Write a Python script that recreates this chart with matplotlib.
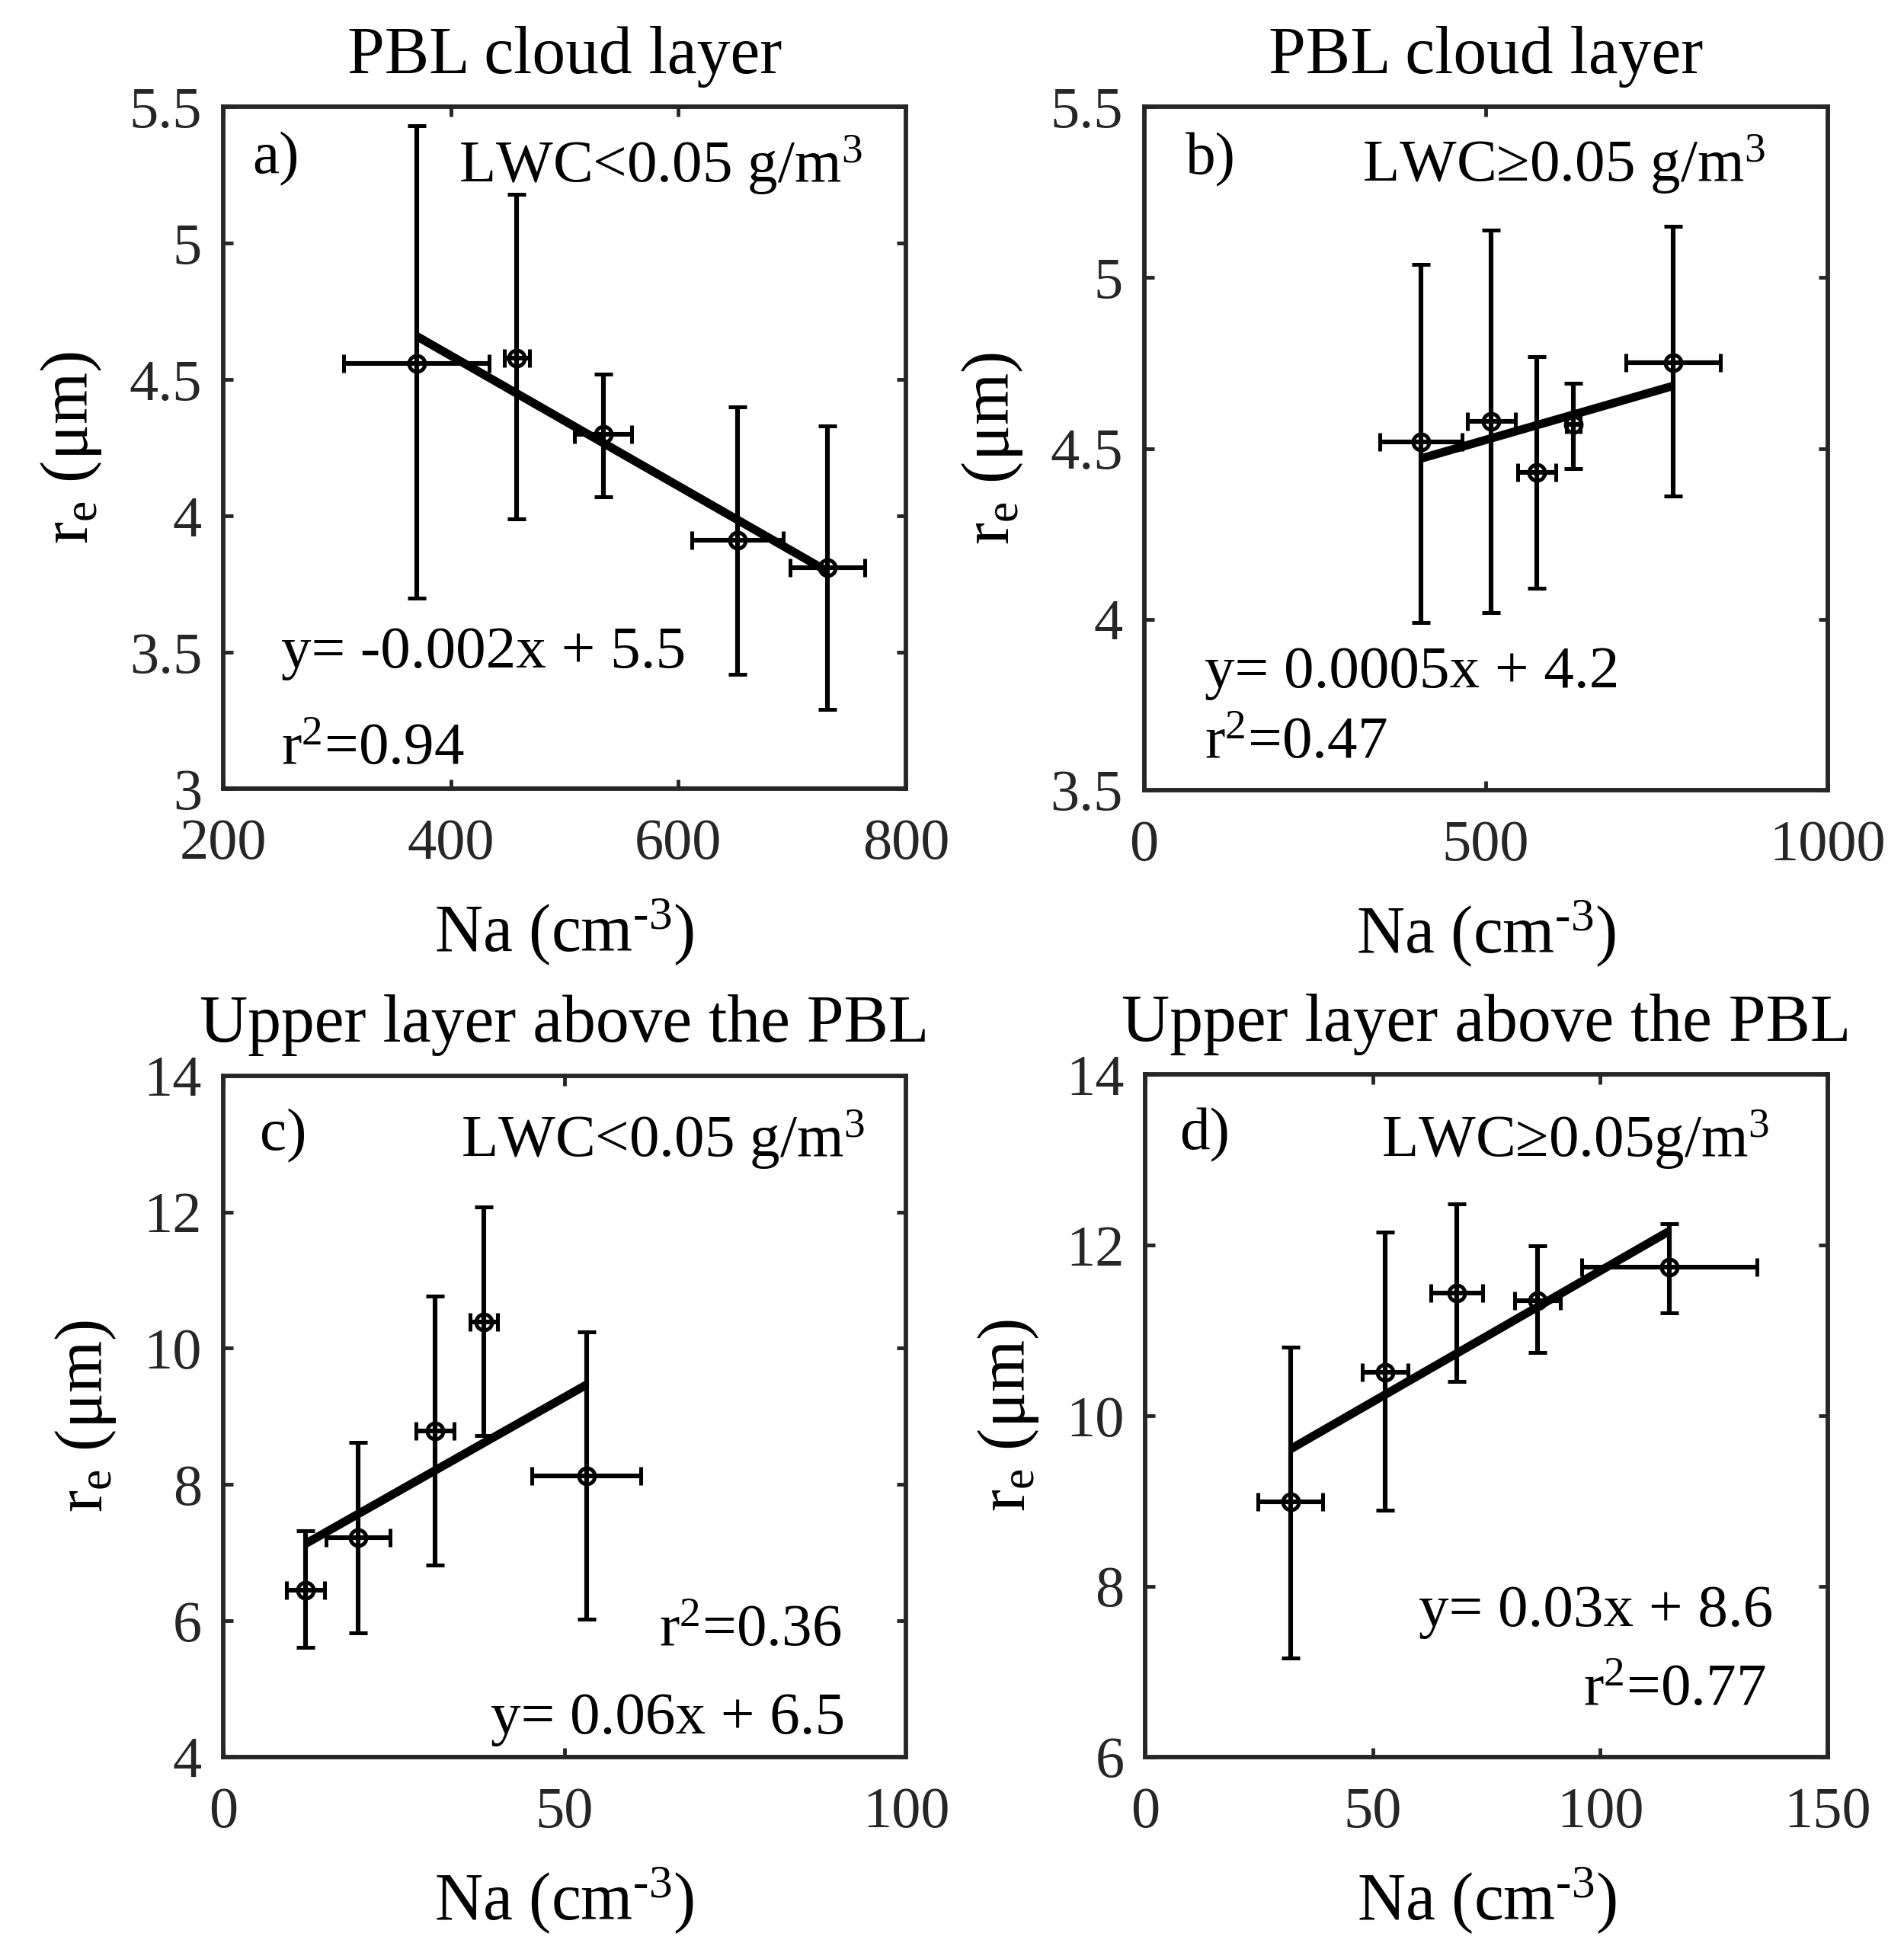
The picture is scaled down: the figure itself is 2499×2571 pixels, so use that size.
import numpy as np
import matplotlib
matplotlib.use("Agg")
import matplotlib.pyplot as plt

plt.rcParams['font.family'] = ['Liberation Serif', 'DejaVu Serif']
plt.rcParams['mathtext.fontset'] = 'custom'
plt.rcParams['mathtext.rm'] = 'Liberation Serif'
plt.rcParams['mathtext.it'] = 'Liberation Serif:italic'
plt.rcParams['mathtext.bf'] = 'Liberation Serif:bold'

# ---------------- data ----------------
# panel a: PBL cloud layer, LWC < 0.05
a_x = [370, 458, 534, 652, 731]
a_y = [4.56, 4.58, 4.30, 3.91, 3.81]
a_ylow = [3.70, 3.99, 4.07, 3.42, 3.29]
a_yhigh = [5.43, 5.18, 4.52, 4.40, 4.33]
a_xerr = [64, 11, 25, 40, 33]

# panel b: PBL cloud layer, LWC >= 0.05
b_x = [405, 508, 575, 628, 774]
b_y = [4.52, 4.58, 4.43, 4.57, 4.75]
b_ylow = [3.99, 4.02, 4.09, 4.44, 4.36]
b_yhigh = [5.04, 5.14, 4.77, 4.69, 5.15]
b_xerr = [60, 35, 28, 10, 69]

# panel c: upper layer, LWC < 0.05
c_x = [12.1, 19.8, 31.0, 38.2, 53.2]
c_y = [6.45, 7.22, 8.79, 10.39, 8.13]
c_ylow = [5.61, 5.82, 6.82, 8.72, 6.02]
c_yhigh = [7.32, 8.62, 10.77, 12.07, 10.24]
c_xerr = [2.8, 4.7, 2.8, 2.0, 8.0]

# panel d: upper layer, LWC >= 0.05
d_x = [31.9, 52.7, 68.5, 86.2, 115.2]
d_y = [8.99, 10.51, 11.44, 11.35, 11.74]
d_ylow = [7.16, 8.89, 10.40, 10.74, 11.21]
d_yhigh = [10.80, 12.15, 12.48, 11.99, 12.25]
d_xerr = [7.1, 5.0, 5.7, 5.0, 19.2]

titles = ["PBL cloud layer", "PBL cloud layer",
          "Upper layer above the PBL", "Upper layer above the PBL"]
panel_tags = ["a)", "b)", "c)", "d)"]
lwc_labels = ["LWC<0.05 g/m$^{3}$", "LWC\u22650.05 g/m$^{3}$",
              "LWC<0.05 g/m$^{3}$", "LWC\u22650.05g/m$^{3}$"]
eq_labels = ["y= -0.002x + 5.5", "y= 0.0005x + 4.2",
             "y= 0.06x + 6.5", "y= 0.03x + 8.6"]
r2_labels = ["r$^{2}$=0.94", "r$^{2}$=0.47", "r$^{2}$=0.36", "r$^{2}$=0.77"]

a_xticks = [200, 400, 600, 800]
a_yticks = [3, 3.5, 4, 4.5, 5, 5.5]
b_xticks = [0, 500, 1000]
b_yticks = [3.5, 4, 4.5, 5, 5.5]
c_xticks = [0, 50, 100]
c_yticks = [4, 6, 8, 10, 12, 14]
d_xticks = [0, 50, 100, 150]
d_yticks = [6, 8, 10, 12, 14]

xlabel = "Na (cm$^{\\text{-3}}$)"
ylabel = "r$_{\\rm e}$ (\u03bcm)"

# ---------------- layout / style ----------------
W, H, DPI = 2499, 2571, 100
fig = plt.figure(figsize=(W / DPI, H / DPI), dpi=DPI)
positions = [[0.1172, 0.5974, 0.3586, 0.3480],
             [0.6009, 0.5968, 0.3589, 0.3486],
             [0.1172, 0.1031, 0.3586, 0.3478],
             [0.6016, 0.1031, 0.3583, 0.3484]]

AXC = '#262626'
TICK_FS = 55
TXT_FS = 57
LAB_FS = 63

panels = [
    (a_x, a_y, a_ylow, a_yhigh, a_xerr, a_xticks, a_yticks),
    (b_x, b_y, b_ylow, b_yhigh, b_xerr, b_xticks, b_yticks),
    (c_x, c_y, c_ylow, c_yhigh, c_xerr, c_xticks, c_yticks),
    (d_x, d_y, d_ylow, d_yhigh, d_xerr, d_xticks, d_yticks),
]

# text placement in axes fractions
tag_pos = [(0.043, 0.924), (0.061, 0.923), (0.054, 0.912), (0.050, 0.911)]
lwc_pos = [(0.936, 0.915), (0.909, 0.916), (0.940, 0.906), (0.914, 0.904)]
eq_pos = [(0.085, 0.199, 'left'), (0.088, 0.171, 'left'),
          (0.911, 0.056, 'right'), (0.920, 0.213, 'right')]
r2_pos = [(0.085, 0.0575, 'left'), (0.088, 0.068, 'left'),
          (0.905, 0.185, 'right'), (0.909, 0.098, 'right')]

for i, (x, y, ylo, yhi, xerr, xt, yt) in enumerate(panels):
    ax = fig.add_axes(positions[i])
    x = np.asarray(x, float)
    y = np.asarray(y, float)
    yerr = np.vstack([y - np.asarray(ylo), np.asarray(yhi) - y])
    ax.errorbar(x, y, yerr=yerr, xerr=xerr, fmt='o', color='black',
                mfc='none', mec='black', ms=15, mew=3.6,
                elinewidth=4.4, capsize=8.5, capthick=4.4, zorder=2)
    # least squares fit line over data range
    k, b = np.polyfit(x, y, 1)
    xf = np.array([x.min(), x.max()])
    ax.plot(xf, k * xf + b, color='black', lw=8,
            solid_capstyle='butt', zorder=3)

    ax.set_xlim(xt[0], xt[-1])
    ax.set_ylim(yt[0], yt[-1])
    ax.set_xticks(xt)
    ax.set_yticks(yt)
    ax.set_xticklabels(['%g' % v for v in xt])
    ax.set_yticklabels(['%g' % v for v in yt])
    ax.tick_params(direction='in', length=9, width=3.5, colors=AXC,
                   labelsize=TICK_FS, top=True, right=True)
    ax.tick_params(axis='x', pad=28)
    ax.tick_params(axis='y', pad=20)
    for sp in ax.spines.values():
        sp.set_linewidth(4.2)
        sp.set_color(AXC)

    ax.set_title(titles[i], fontsize=LAB_FS, pad=32)
    ax.set_xlabel(xlabel, fontsize=LAB_FS, labelpad=24)
    ax.set_ylabel(ylabel, fontsize=LAB_FS, labelpad=24)

    ax.text(tag_pos[i][0], tag_pos[i][1], panel_tags[i], transform=ax.transAxes,
            fontsize=TXT_FS, ha='left', va='center')
    ax.text(lwc_pos[i][0], lwc_pos[i][1], lwc_labels[i], transform=ax.transAxes,
            fontsize=TXT_FS, ha='right', va='center')
    ax.text(eq_pos[i][0], eq_pos[i][1], eq_labels[i], transform=ax.transAxes,
            fontsize=TXT_FS, ha=eq_pos[i][2], va='center')
    ax.text(r2_pos[i][0], r2_pos[i][1], r2_labels[i], transform=ax.transAxes,
            fontsize=TXT_FS, ha=r2_pos[i][2], va='center')

fig.savefig("out.png", dpi=DPI, facecolor='white')
